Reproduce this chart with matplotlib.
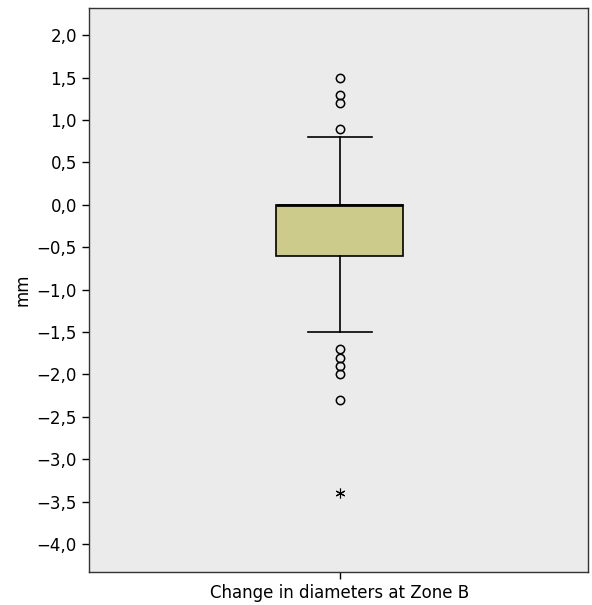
import matplotlib.pyplot as plt
from matplotlib.ticker import FuncFormatter

# Statistiques de la boîte
category = "Change in diameters at Zone B"
q1, median, q3 = -0.6, 0.0, 0.0
whisker_low, whisker_high = -1.5, 0.8
outliers = [1.5, 1.3, 1.2, 0.9, -1.7, -1.8, -1.9, -2.0, -2.3]
extremes = [-3.4]
y_ticks = [2.0, 1.5, 1.0, 0.5, 0.0, -0.5, -1.0, -1.5, -2.0, -2.5, -3.0, -3.5, -4.0]

stats = [{
    "label": category,
    "q1": q1, "med": median, "q3": q3,
    "whislo": whisker_low, "whishi": whisker_high,
    "fliers": outliers,
}]

fig = plt.figure(figsize=(5.92, 6.05), dpi=100)
ax = fig.add_axes([0.150, 0.0545, 0.843, 0.932])
ax.set_facecolor("#ebebeb")

ax.bxp(stats, positions=[1], widths=0.255, patch_artist=True,
       boxprops=dict(facecolor="#cccb8b", edgecolor="black", linewidth=1.2),
       medianprops=dict(color="black", linewidth=2),
       whiskerprops=dict(color="black", linewidth=1.2),
       capprops=dict(color="black", linewidth=1.2),
       capwidths=0.127,
       flierprops=dict(marker="o", markerfacecolor="none", markeredgecolor="black",
                       markersize=6, markeredgewidth=1.1))

# valeurs extrêmes
ax.plot([1] * len(extremes), extremes, linestyle="none", marker=(6, 2, 0),
        color="black", markersize=7, markeredgewidth=0.8)

ax.set_xlim(0.497, 1.497)
ax.set_ylim(-4.33, 2.32)
ax.set_yticks(y_ticks)
ax.yaxis.set_major_formatter(FuncFormatter(lambda v, p: f"{v:.1f}".replace(".", ",").replace("-", "\u2212")))
ax.set_xticks([1])
ax.set_xticklabels([category])
ax.tick_params(axis="both", labelsize=12, length=5, width=1)
ax.set_ylabel("mm", fontsize=12)

for s in ax.spines.values():
    s.set_color("#333333")
    s.set_linewidth(1)

fig.savefig("out.png", dpi=100)
